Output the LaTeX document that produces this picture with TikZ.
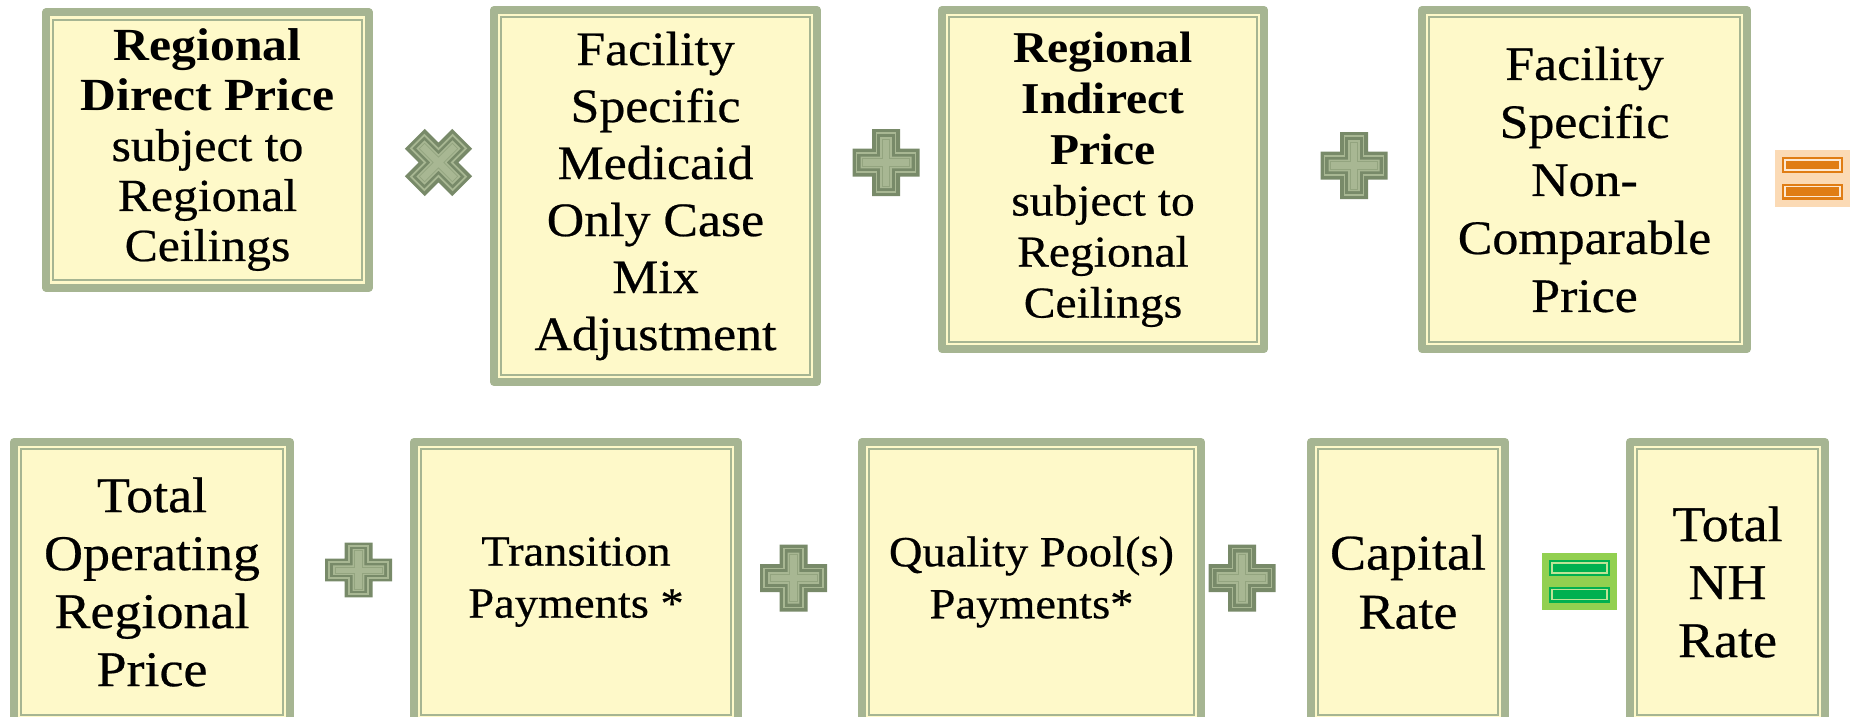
\documentclass[tikz,border=0pt]{standalone}
\usepackage{fontspec}
\setmainfont[FakeStretch=1.08, UprightFeatures={FakeBold=0.5}]{Liberation Serif}
\definecolor{sage}{HTML}{A6B592}
\definecolor{paper}{HTML}{FEF9C9}
\definecolor{opdark}{HTML}{788A69}
\definecolor{oplight}{HTML}{A8B793}
\definecolor{opmid}{HTML}{93A47F}
\definecolor{orangebg}{HTML}{FBDAB5}
\definecolor{orangebar}{HTML}{E07D14}
\definecolor{greenbg}{HTML}{92D050}
\definecolor{greenbar}{HTML}{00B050}

% cross outline: half length, half thickness
\newcommand{\crosspath}[2]{(-#2,-#1) -- (#2,-#1) -- (#2,-#2) -- (#1,-#2) -- (#1,#2) -- (#2,#2) -- (#2,#1) -- (-#2,#1) -- (-#2,#2) -- (-#1,#2) -- (-#1,-#2) -- (-#2,-#2) -- cycle}
\newcommand{\opsign}[4]{%
  \begin{scope}[shift={(#1,#2)}, rotate=#3, yscale=#4]
    \fill[opdark] \crosspath{33.5}{14};
    \draw[oplight, line width=1.8pt] \crosspath{29.5}{9.5};
    \fill[oplight] \crosspath{25.5}{5.8};
    \draw[opmid, line width=0.7pt] \crosspath{23.5}{3.8};
  \end{scope}}
\newcommand{\eqsign}[4]{%
  \begin{scope}[shift={(#1,#2)}]
    \fill[#3] (-37.5,-28.5) rectangle (37.5,28.5);
    \foreach \yy in {-13.5,13} {
      \fill[#4] (-30.5,\yy-8) rectangle (30.5,\yy+8);
      \draw[#3!60!white, line width=1.3pt] (-27.5,\yy-5) rectangle (27.5,\yy+5);
    }
  \end{scope}}

\begin{document}
\begin{tikzpicture}[x=1pt, y=-1pt,
  pricebox/.style={draw=sage, line width=8pt, line join=round, fill=paper, outer sep=0pt, inner sep=0pt, align=center},
  frameline/.style={draw=sage, line width=2pt}]
\useasboundingbox (0,0) rectangle (1855,717);
\clip (0,0) rectangle (1855,717);
% first row
\node[pricebox, minimum width=323pt, minimum height=275pt, font=\fontsize{46}{50}\selectfont] (directprice) at (207.5,150) {\textbf{Regional}\\\textbf{Direct Price}\\subject to\\Regional\\Ceilings};
\node[pricebox, minimum width=323pt, minimum height=372pt, font=\fontsize{48}{57}\selectfont] (casemix) at (655.5,196) {Facility\\Specific\\Medicaid\\Only Case\\Mix\\Adjustment};
\node[pricebox, minimum width=322pt, minimum height=339pt, font=\fontsize{44}{51}\selectfont] (indirectprice) at (1103,179.5) {\textbf{Regional}\\\textbf{Indirect}\\\textbf{Price}\\subject to\\Regional\\Ceilings};
\node[pricebox, minimum width=325pt, minimum height=339pt, font=\fontsize{48}{58}\selectfont] (noncomparable) at (1584.5,179.5) {Facility\\Specific\\Non-\\Comparable\\Price};
% second row
\node[pricebox, minimum width=276pt, minimum height=280pt, font=\fontsize{50}{58}\selectfont] (operating) at (152,582) {Total\\Operating\\Regional\\Price};
\node[pricebox, minimum width=324pt, minimum height=280pt, font=\fontsize{43}{52}\selectfont] (transition) at (576,582) {Transition\\Payments *};
\node[pricebox, minimum width=339pt, minimum height=280pt, font=\fontsize{43}{52}\selectfont] (quality) at (1031.5,582) {Quality Pool(s)\\Payments*};
\node[pricebox, minimum width=194pt, minimum height=280pt, font=\fontsize{50}{59}\selectfont] (capital) at (1408,582) {Capital\\Rate};
\node[pricebox, minimum width=195pt, minimum height=280pt, font=\fontsize{50}{58}\selectfont] (nhrate) at (1727.5,582) {Total\\NH\\Rate};
\foreach \n in {directprice,casemix,indirectprice,noncomparable,operating,transition,quality,capital,nhrate}
  \draw[frameline] ([shift={(7.3,7.3)}]\n.north west) rectangle ([shift={(-7.3,-7.3)}]\n.south east);
% operators
\opsign{438.5}{162.5}{45}{1}
\opsign{886}{162.5}{0}{1}
\opsign{1354}{165.5}{0}{1}
\eqsign{1812.5}{178.5}{orangebg}{orangebar}
\opsign{358.5}{570}{0}{0.82}
\opsign{793.5}{578}{0}{1}
\opsign{1242}{578}{0}{1}
\eqsign{1579.5}{581.5}{greenbg}{greenbar}
\end{tikzpicture}
\end{document}
